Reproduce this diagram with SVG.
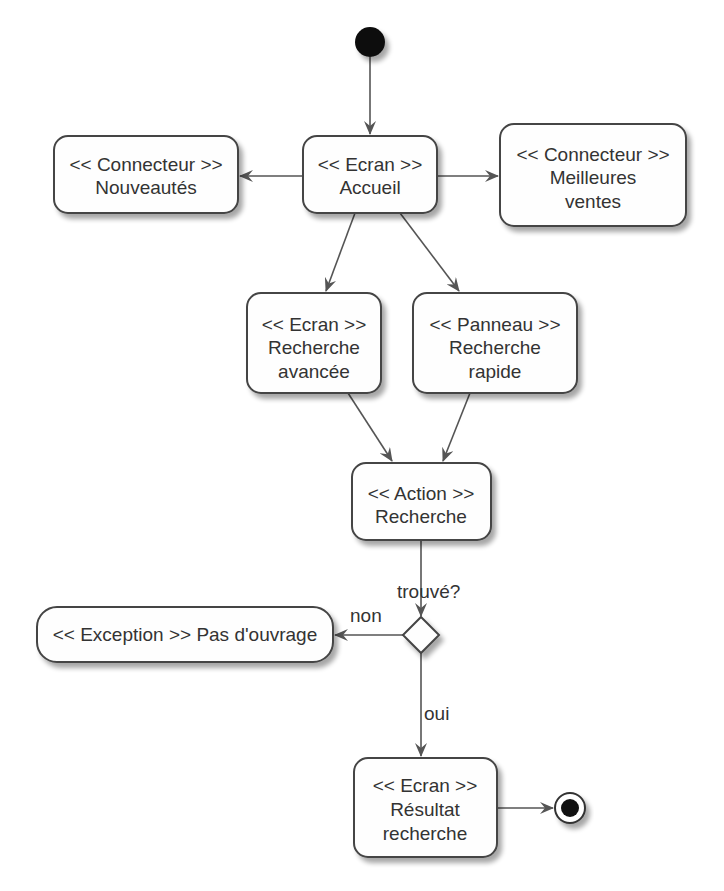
<svg xmlns="http://www.w3.org/2000/svg" width="724" height="891" viewBox="0 0 724 891">
<style>
.box{fill:#fefefe;stroke:#444;stroke-width:2;filter:url(#sh)}
.t{font-family:"Liberation Sans",Arial,sans-serif;font-size:19px;fill:#333;text-anchor:middle}
.lbl{font-family:"Liberation Sans",Arial,sans-serif;font-size:19px;fill:#333}
.c{stroke:#555;stroke-width:1.6;fill:none;marker-end:url(#ah)}
</style>
<defs>
<filter id="sh" x="-20%" y="-20%" width="150%" height="160%">
<feGaussianBlur in="SourceAlpha" stdDeviation="2.5"/>
<feOffset dx="4" dy="5" result="b"/>
<feComponentTransfer><feFuncA type="linear" slope="0.35"/></feComponentTransfer>
<feMerge><feMergeNode/><feMergeNode in="SourceGraphic"/></feMerge>
</filter>
<marker id="ah" viewBox="0 0 14 12" refX="13" refY="6" markerWidth="14" markerHeight="12" markerUnits="userSpaceOnUse" orient="auto">
<path d="M0,0 L14,6 L0,12 L5,6 z" fill="#555"/>
</marker>
</defs>
<rect width="724" height="891" fill="#fff"/>
<g id="connectors">
<line class="c" x1="370" y1="57" x2="370" y2="134"/>
<line class="c" x1="303" y1="176" x2="240" y2="176"/>
<line class="c" x1="437" y1="176" x2="498" y2="176"/>
<line class="c" x1="355" y1="213" x2="326" y2="291"/>
<line class="c" x1="400" y1="213" x2="459" y2="291"/>
<line class="c" x1="348" y1="393" x2="392" y2="461"/>
<line class="c" x1="470" y1="393" x2="443" y2="461"/>
<line class="c" x1="421" y1="540" x2="421" y2="616"/>
<line class="c" x1="403" y1="635" x2="335" y2="635"/>
<line class="c" x1="421" y1="653" x2="421" y2="756"/>
<line class="c" x1="497" y1="808" x2="553" y2="808"/>
<text class="lbl" x="397" y="598">trouvé?</text>
<text class="lbl" x="350" y="622">non</text>
<text class="lbl" x="424" y="720">oui</text>
</g>
<g id="start"><circle cx="370" cy="42" r="15" fill="#111" filter="url(#sh)"/></g>
<g id="accueil"><rect class="box" x="303" y="136" width="134" height="77" rx="14"/>
<text class="t" x="370" y="171">&lt;&lt; Ecran &gt;&gt;</text><text class="t" x="370" y="194">Accueil</text></g>
<g id="nouveautes"><rect class="box" x="54" y="136" width="184" height="77" rx="14"/>
<text class="t" x="146" y="171">&lt;&lt; Connecteur &gt;&gt;</text><text class="t" x="146" y="194">Nouveautés</text></g>
<g id="meilleures"><rect class="box" x="500" y="124" width="186" height="102" rx="14"/>
<text class="t" x="593" y="161">&lt;&lt; Connecteur &gt;&gt;</text><text class="t" x="593" y="184">Meilleures</text><text class="t" x="593" y="208">ventes</text></g>
<g id="avancee"><rect class="box" x="247" y="293" width="134" height="100" rx="14"/>
<text class="t" x="314" y="331">&lt;&lt; Ecran &gt;&gt;</text><text class="t" x="314" y="354">Recherche</text><text class="t" x="314" y="378">avancée</text></g>
<g id="rapide"><rect class="box" x="413" y="293" width="164" height="100" rx="14"/>
<text class="t" x="495" y="331">&lt;&lt; Panneau &gt;&gt;</text><text class="t" x="495" y="354">Recherche</text><text class="t" x="495" y="378">rapide</text></g>
<g id="action"><rect class="box" x="352" y="463" width="139" height="77" rx="14"/>
<text class="t" x="421" y="500">&lt;&lt; Action &gt;&gt;</text><text class="t" x="421" y="523">Recherche</text></g>
<g id="decision"><polygon class="box" points="421,617 439,635 421,653 403,635"/></g>
<g id="exception"><rect class="box" x="37" y="607" width="296" height="55" rx="20"/>
<text class="t" x="185" y="641">&lt;&lt; Exception &gt;&gt; Pas d'ouvrage</text></g>
<g id="resultat"><rect class="box" x="354" y="758" width="143" height="99" rx="14"/>
<text class="t" x="425" y="792">&lt;&lt; Ecran &gt;&gt;</text><text class="t" x="425" y="816">Résultat</text><text class="t" x="425" y="840">recherche</text></g>
<g id="end"><circle cx="570" cy="808" r="15" fill="#fff" stroke="#333" stroke-width="2" filter="url(#sh)"/><circle cx="570" cy="808" r="9" fill="#111"/></g>
</svg>
